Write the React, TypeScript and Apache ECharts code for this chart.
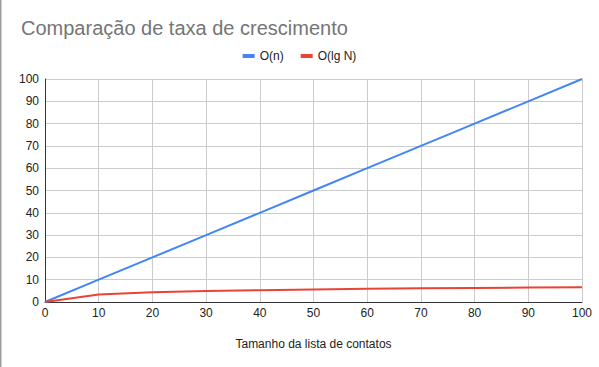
import React, { useEffect, useRef } from "react";
import * as echarts from "echarts";

const xValues = [0, 10, 20, 30, 40, 50, 60, 70, 80, 90, 100];
const linearValues = [0, 10, 20, 30, 40, 50, 60, 70, 80, 90, 100];
const logValues = [0, 3.32, 4.32, 4.91, 5.32, 5.64, 5.91, 6.13, 6.32, 6.49, 6.64];
const seriesNames = ["O(n)", "O(lg N)"];
const titleText = "Comparação de taxa de crescimento";
const xAxisName = "Tamanho da lista de contatos";

export default function App() {
  const ref = useRef<HTMLDivElement>(null);
  useEffect(() => {
    if (!ref.current) return;
    const chart = echarts.init(ref.current, undefined, { renderer: "svg" });
    const font = "Arial, 'Liberation Sans', sans-serif";
    chart.setOption({
      animation: false,
      backgroundColor: "#ffffff",
      textStyle: { fontFamily: font },
      title: {
        text: titleText,
        left: 16,
        top: 13,
        textStyle: { fontSize: 20, fontWeight: "normal", color: "#757575", fontFamily: font },
      },
      legend: {
        top: 45,
        left: "center",
        icon: "rect",
        itemWidth: 12,
        itemHeight: 4,
        itemGap: 17,
        textStyle: { fontSize: 12, color: "#222222", fontFamily: font },
        data: seriesNames,
      },
      grid: { left: 45, right: 17, top: 79, bottom: 65, containLabel: false },
      xAxis: {
        type: "value",
        min: 0,
        max: 100,
        interval: 10,
        name: xAxisName,
        nameLocation: "middle",
        nameGap: 36,
        nameTextStyle: { fontSize: 12, color: "#222222", fontFamily: font },
        axisLine: { show: true, lineStyle: { color: "#333333", width: 1 } },
        axisTick: { show: false },
        axisLabel: { fontSize: 12, color: "#222222", margin: 5, fontFamily: font },
        splitLine: { show: true, lineStyle: { color: "#cccccc", width: 1 } },
      },
      yAxis: {
        type: "value",
        min: 0,
        max: 100,
        interval: 10,
        axisLine: { show: true, lineStyle: { color: "#333333", width: 1 } },
        axisTick: { show: false },
        axisLabel: { fontSize: 12, color: "#222222", margin: 6, fontFamily: font },
        splitLine: { show: true, lineStyle: { color: "#cccccc", width: 1 } },
      },
      graphic: [
        {
          type: "rect",
          left: 0,
          top: 0,
          shape: { width: 1.5, height: 367 },
          style: { fill: "#9e9e9e" },
          silent: true,
        },
      ],
      series: [
        {
          name: seriesNames[0],
          type: "line",
          data: xValues.map((x, i) => [x, linearValues[i]]),
          showSymbol: false,
          symbol: "none",
          lineStyle: { color: "#4285f4", width: 2 },
          itemStyle: { color: "#4285f4" },
        },
        {
          name: seriesNames[1],
          type: "line",
          data: xValues.map((x, i) => [x, logValues[i]]),
          showSymbol: false,
          symbol: "none",
          lineStyle: { color: "#ea4335", width: 2 },
          itemStyle: { color: "#ea4335" },
        },
      ],
    });
    return () => chart.dispose();
  }, []);
  return <div ref={ref} style={{ width: 599, height: 367, position: "absolute", left: 0, top: 0 }} />;
}
